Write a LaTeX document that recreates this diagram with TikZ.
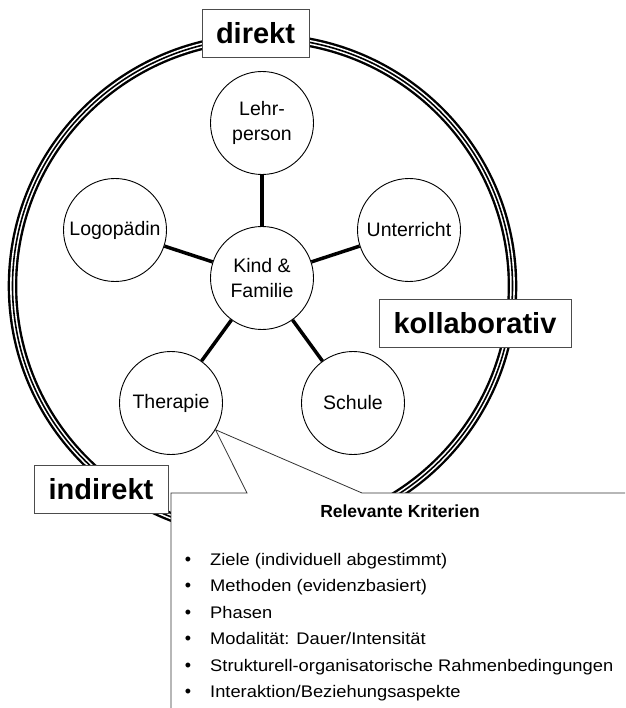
\documentclass[tikz,border=0pt]{standalone}
\usepackage{fontspec}
\setmainfont{Liberation Sans}
\newfontfamily\critfont[FakeStretch=1.09]{Liberation Sans}
\usetikzlibrary{calc}
\tikzset{
  actor/.style={draw=black, line width=0.9pt, fill=white, circle, minimum size=103pt,
                inner sep=1pt, align=center, font=\fontsize{19.5}{25}\selectfont},
  mode/.style={draw=black!70, line width=0.9pt, fill=white, minimum height=48pt,
               inner sep=2pt, font=\fontsize{29}{30}\selectfont\bfseries},
  spoke/.style={line width=3.5pt},
  ring/.style={x radius=250, y radius=248},
  crit/.style={anchor=base west, inner sep=0pt, font=\critfont\fontsize{16.8}{20}\selectfont},
  bull/.style={anchor=base, inner sep=0pt, font=\fontsize{18}{20}\selectfont},
}

\begin{document}
\begin{tikzpicture}[x=1pt,y=-1pt]
  \clip (0,0) rectangle (625,708);
  % ---- triple ring ----
  \coordinate (ctr) at (262.5,286);
  \draw[line width=9.6pt] (ctr) ellipse [ring];
  \draw[line width=4.8pt, white] (ctr) ellipse [ring];
  \draw[line width=1.6pt] (ctr) ellipse [ring];

  % ---- actors round the child ----
  \node[actor] (kind) at (262,278) {Kind \&\\Familie};
  \node[actor] (lehr) at (262,123) {Lehr-\\person};
  \node[actor] (unter) at (409,230) {Unterricht};
  \node[actor] (schule) at (353,403) {Schule};
  \node[actor] (thera) at (171,403) {Therapie};
  \node[actor] (logo) at (115,230) {Logopädin};
  \foreach \n in {lehr,unter,schule,thera,logo}
    \draw[spoke] (kind) -- (\n);

  % ---- modes ----
  \node[mode, minimum width=107pt] (direkt) at (255.5,33.5) {direkt};
  \node[mode, minimum width=192pt] (kollab) at (475,323) {kollaborativ};
  \node[mode, minimum width=134pt] (indirekt) at (101,489.5) {indirekt};

  % ---- callout ----
  \coordinate (tip) at (thera.-31);
  \filldraw[draw=black!80, fill=white, line width=0.8pt]
    (171,715) -- (171,493) -- (247,493) -- (tip) -- (362,493) -- (632,493) -- (632,715);
  \node[font=\fontsize{17.5}{20}\selectfont\bfseries, anchor=base] (head) at (400,517) {Relevante Kriterien};
  \foreach \txt [count=\i] in {{Ziele (individuell abgestimmt)},{Methoden (evidenzbasiert)},{Phasen},
      {Modalität: Dauer/Intensität},{Strukturell-organisatorische Rahmenbedingungen},
      {Interaktion/Beziehungsaspekte}} {
    \node[bull] (dot\i) at (188,{565+26.5*(\i-1)}) {\textbullet};
    \node[crit] (crit\i) at (210,{565+26.5*(\i-1)}) {\txt};
  }
\end{tikzpicture}
\end{document}
